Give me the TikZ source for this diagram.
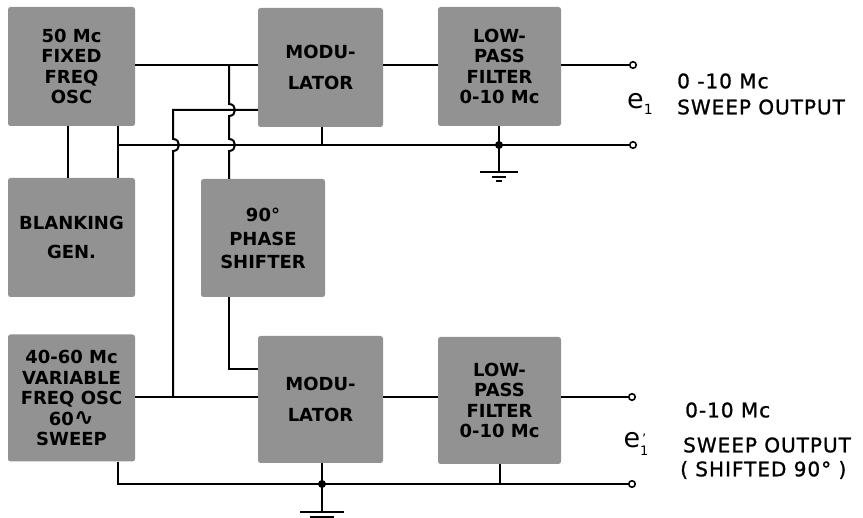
\documentclass[tikz,border=0pt]{standalone}
\usepackage{fontspec}
\usetikzlibrary{calc}
\setmainfont{DejaVu Sans}
\newfontfamily\boxfont{DejaVu Sans Bold}
\newfontfamily\lblfont[LetterSpace=5,FakeBold=1.2]{DejaVu Sans}
\definecolor{boxgray}{HTML}{929292}
\tikzset{
  blk/.style={fill=boxgray, rounded corners=2.5pt, inner sep=0pt, align=center,
    font=\boxfont\fontsize{18}{20.5}\selectfont},
  wire/.style={line width=2pt},
  term/.style={circle, draw, fill=white, line width=1.6pt, inner sep=0pt, minimum size=6.5pt},
  jdot/.style={circle, fill=black, inner sep=0pt, minimum size=8pt},
  lbl/.style={anchor=west, inner sep=0pt, font=\lblfont\fontsize{20}{24}\selectfont},
  elbl/.style={inner sep=0pt, font=\fontsize{27}{28}\selectfont}
}
\begin{document}
\begin{tikzpicture}[x=1pt,y=-1pt]
\useasboundingbox (0,0) rectangle (863,518);
% blocks
\node[blk, minimum width=127pt, minimum height=119pt] (fosc) at (71.5,66.5) {50 Mc\\FIXED\\FREQ\\OSC};
\node[blk, minimum width=125pt, minimum height=119pt] (mod1) at (320.5,67.5) {MODU-\\[10pt]LATOR};
\node[blk, minimum width=123pt, minimum height=119pt] (lpf1) at (499.5,66.5) {LOW-\\PASS\\FILTER\\0-10 Mc};
\node[blk, minimum width=127pt, minimum height=119pt] (blank) at (71.5,237.5) {BLANKING\\[8pt]GEN.};
\node[blk, minimum width=124pt, minimum height=118pt] (phase) at (263,238) {90°\\[4pt]PHASE\\[2pt]SHIFTER};
\node[blk, minimum width=127pt, minimum height=127pt] (vosc) at (71.5,398) {40-60 Mc\\VARIABLE\\FREQ OSC\\60{\fontspec{DejaVu Sans}\fontsize{24}{20}\selectfont\bfseries ∿}\\SWEEP};
\node[blk, minimum width=125pt, minimum height=127pt] (mod2) at (320.5,399.5) {MODU-\\[10pt]LATOR};
\node[blk, minimum width=123pt, minimum height=127pt] (lpf2) at (499.5,400.5) {LOW-\\PASS\\FILTER\\0-10 Mc};
% terminals
\node[term] (t1) at (633,65) {};
\node[term] (t2) at (633,145) {};
\node[term] (t3) at (632,397) {};
\node[term] (t4) at (632,484) {};
% column coordinates
\coordinate (xa) at (118,0);
\coordinate (xb) at (68,0);
\coordinate (xc) at (173,0);
\coordinate (xd) at (229,0);
\coordinate (xm) at (322,0);
\coordinate (xl) at (499,0);
\coordinate (r2) at (0,110);
\coordinate (r4) at (0,369);
% top signal row
\draw[wire] (fosc.east |- t1) -- (mod1.west |- t1);
\draw[wire] (mod1.east |- t1) -- (lpf1.west |- t1);
\draw[wire] (lpf1.east |- t1) -- (t1.west);
% common bus (upper)
\draw[wire] (xb |- fosc.south) -- (xb |- blank.north);
\draw[wire] (xa |- fosc.south) -- (xa |- blank.north);
\draw[wire] (xa |- t2) -- (t2.west);
\draw[wire] (xm |- mod1.south) -- (xm |- t2);
\draw[wire] (xl |- lpf1.south) -- (xl |- t2) -- ++(0,27) coordinate (g1);
\node[jdot] (j1) at (xl |- t2) {};
\draw[wire] ($(g1)+(-19,0)$) -- ($(g1)+(19,0)$);
\draw[wire] ($(g1)+(-7,5)$) -- ($(g1)+(7,5)$);
\draw[wire] ($(g1)+(-3,9)$) -- ($(g1)+(3,9)$);
% 50 Mc to phase shifter with crossovers
\draw[wire] (xd |- t1) -- (229,104) .. controls +(8,0) and +(8,0) .. (229,116)
  -- (229,139) .. controls +(8,0) and +(8,0) .. (229,151) -- (xd |- phase.north);
% variable osc to modulator 1
\draw[wire] (mod1.west |- r2) -- (xc |- r2) -- (173,139) .. controls +(8,0) and +(8,0) .. (173,151)
  -- (xc |- t3);
% phase shifter to modulator 2
\draw[wire] (xd |- phase.south) -- (xd |- r4) -- (mod2.west |- r4);
% lower signal row
\draw[wire] (vosc.east |- t3) -- (mod2.west |- t3);
\draw[wire] (mod2.east |- t3) -- (lpf2.west |- t3);
\draw[wire] (lpf2.east |- t3) -- (t3.west);
% lower bus
\draw[wire] (xa |- vosc.south) -- (xa |- t4) -- (t4.west);
\draw[wire] (xm |- mod2.south) -- (xm |- t4) -- ++(0,28) coordinate (g2);
\node[jdot] (j2) at (xm |- t4) {};
\draw[wire] (lpf2.south) -- (lpf2.south |- t4);
\draw[wire] ($(g2)+(-22,0)$) -- ($(g2)+(22,0)$);
\draw[wire] ($(g2)+(-12,5)$) -- ($(g2)+(12,5)$);
% labels
\node[lbl] (o1a) at (677,81) {0 -10 Mc};
\node[lbl] (o1b) at (677,107) {SWEEP OUTPUT};
\node[elbl] (e1) at (640,104) {e\raisebox{-6pt}{\fontsize{14}{14}\selectfont 1}};
\node[lbl] (o2a) at (685,410) {0-10 Mc};
\node[lbl] (o2b) at (683,445) {SWEEP OUTPUT};
\node[lbl] (o2c) at (680,470) {( SHIFTED 90° )};
\node[elbl] (e2) at (636,444) {e\raisebox{-8pt}{\fontsize{13}{10}\selectfont\shortstack{'\\1}}};
\end{tikzpicture}
\end{document}
